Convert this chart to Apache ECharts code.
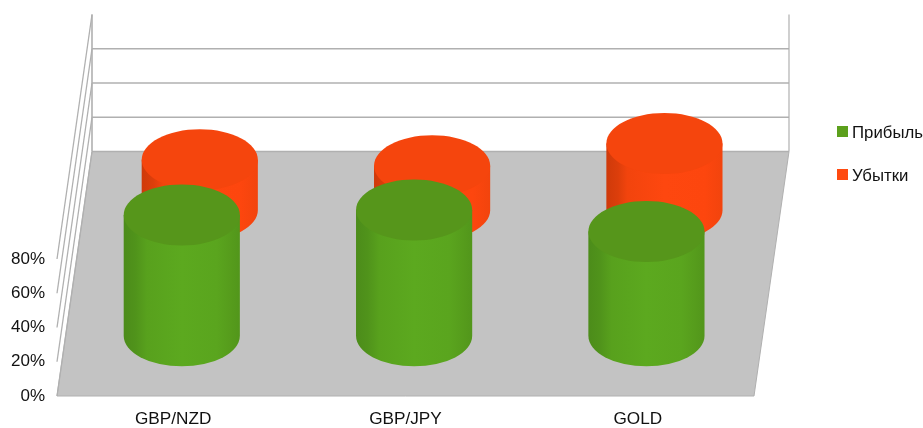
<!DOCTYPE html>
<html><head><meta charset="utf-8">
<style>html,body{margin:0;padding:0;background:#fff}#c{width:923px;height:428px}</style>
<script src="https://cdn.jsdelivr.net/npm/echarts@6/dist/echarts.min.js"></script>
</head><body><div id="c"></div>
<script>
const categories = ['GBP/NZD', 'GBP/JPY', 'GOLD'];
const profit = [70.5, 73.5, 61];
const loss = [29.5, 26, 39];
const yTicks = [0, 20, 40, 60, 80];

const DX = 35, DY = 244.5, RY = 30.5, WALL = '#b0b0b0', FLOOR = '#c3c3c3';
const FONT = '"Liberation Sans", Arial, sans-serif';

function stops(a) {
  return {type:'linear', x:0, y:0, x2:1, y2:0,
    colorStops:a.map(s=>({offset:s[0], color:s[1]}))};
}
const greenBody = stops([[0,'#4c8c1a'],[0.1,'#50931b'],[0.2,'#58a11d'],[0.5,'#5ca91f'],[0.8,'#5aa51e'],[0.92,'#569c1c'],[1,'#52961b']]);
const redBody = stops([[0,'#cf3a0a'],[0.1,'#dc3e0b'],[0.18,'#f2440d'],[0.5,'#fe470f'],[0.85,'#fd460e'],[1,'#f2440d']]);

function cylinder(depth, body, top) {
  return function (params, api) {
    const base = api.coord([api.value(0), 0]);
    const peak = api.coord([api.value(0), api.value(1)]);
    const rx = api.size([1, 0])[0] * 0.25;
    const x = base[0] + DX * depth, yb = base[1] - DY * depth, yt = peak[1] - DY * depth;
    const d = `M${x-rx} ${yt}L${x-rx} ${yb}A${rx} ${RY} 0 0 0 ${x+rx} ${yb}L${x+rx} ${yt}Z`;
    return {type:'group', children:[
      {type:'path', shape:{pathData:d}, style:{fill:body}},
      {type:'ellipse', shape:{cx:x, cy:yt, rx:rx, ry:RY}, style:{fill:top}}
    ]};
  };
}
function rows(values) { return values.map((v,i)=>[i,v]); }

const option = {
  animation:false,
  backgroundColor:'#fff',
  grid:{left:57, top:259, width:697, height:138},
  xAxis:{type:'category', data:categories, axisLine:{show:false}, axisTick:{show:false},
    axisLabel:{color:'#111', fontFamily:FONT, fontSize:17.2, margin:15}},
  yAxis:{type:'value', min:0, max:80, interval:20, splitLine:{show:false},
    axisLine:{show:false}, axisTick:{show:false},
    axisLabel:{color:'#111', fontFamily:FONT, fontSize:17, margin:12, padding:[3,0,0,0], formatter:'{value}%'}},
  legend:{data:['Прибыль','Убытки'], orient:'vertical', left:837, top:125, icon:'rect',
    itemWidth:11, itemHeight:11, itemGap:26, padding:0,
    formatter:n=>'{t|'+n+'}',
    textStyle:{color:'#111', fontFamily:FONT, fontSize:16.8, padding:[0,0,0,-1],
      rich:{t:{color:'#111', fontFamily:FONT, fontSize:16.8, padding:[4,0,0,0]}}}},
  series:[
    {type:'custom', silent:true, z:1, data:[[0,0]], renderItem(p, api){
      const c = p.coordSys, x0=c.x, x1=c.x+c.width, y=c.y+c.height;
      const top = y - DY;
      return {type:'polygon', shape:{points:[[x0,y],[x1,y],[x1+DX,top],[x0+DX,top]]},
        style:{fill:FLOOR, stroke:WALL, lineWidth:1}};
    }},
    {type:'custom', silent:true, z:2, data:yTicks.map(v=>[0,v]), renderItem(p, api){
      const c = p.coordSys, x0=c.x, x1=c.x+c.width;
      const v = api.value(1), y = api.coord([0, v])[1];
      const line = (a,b,w)=>({type:'line', shape:{x1:a[0],y1:a[1],x2:b[0],y2:b[1]},
        style:{stroke:WALL, lineWidth:w||1.3}});
      const ch = [line([x0,y],[x0+DX,y-DY])];
      const last = v === yTicks[yTicks.length-1];
      if (!last) ch.push(line([x0+DX,y-DY],[x1+DX,y-DY]));
      else {
        const b = c.y + c.height - DY;
        ch.push(line([x0+DX,y-DY],[x0+DX,b],1.6));
        ch.push(line([x1+DX,y-DY],[x1+DX,b],1.2));
      }
      return {type:'group', children:ch};
    }},
    {type:'custom', name:'Убытки', z:3, silent:true, itemStyle:{color:'#ff4a10'},
      data:rows(loss), renderItem:cylinder(0.76, redBody, '#f5450d')},
    {type:'custom', name:'Прибыль', z:4, silent:true, itemStyle:{color:'#5ca01c'},
      data:rows(profit), renderItem:cylinder(0.246, greenBody, '#56961b')}
  ]
};
echarts.init(document.getElementById('c'), null, {renderer:'canvas'}).setOption(option);
</script></body></html>
